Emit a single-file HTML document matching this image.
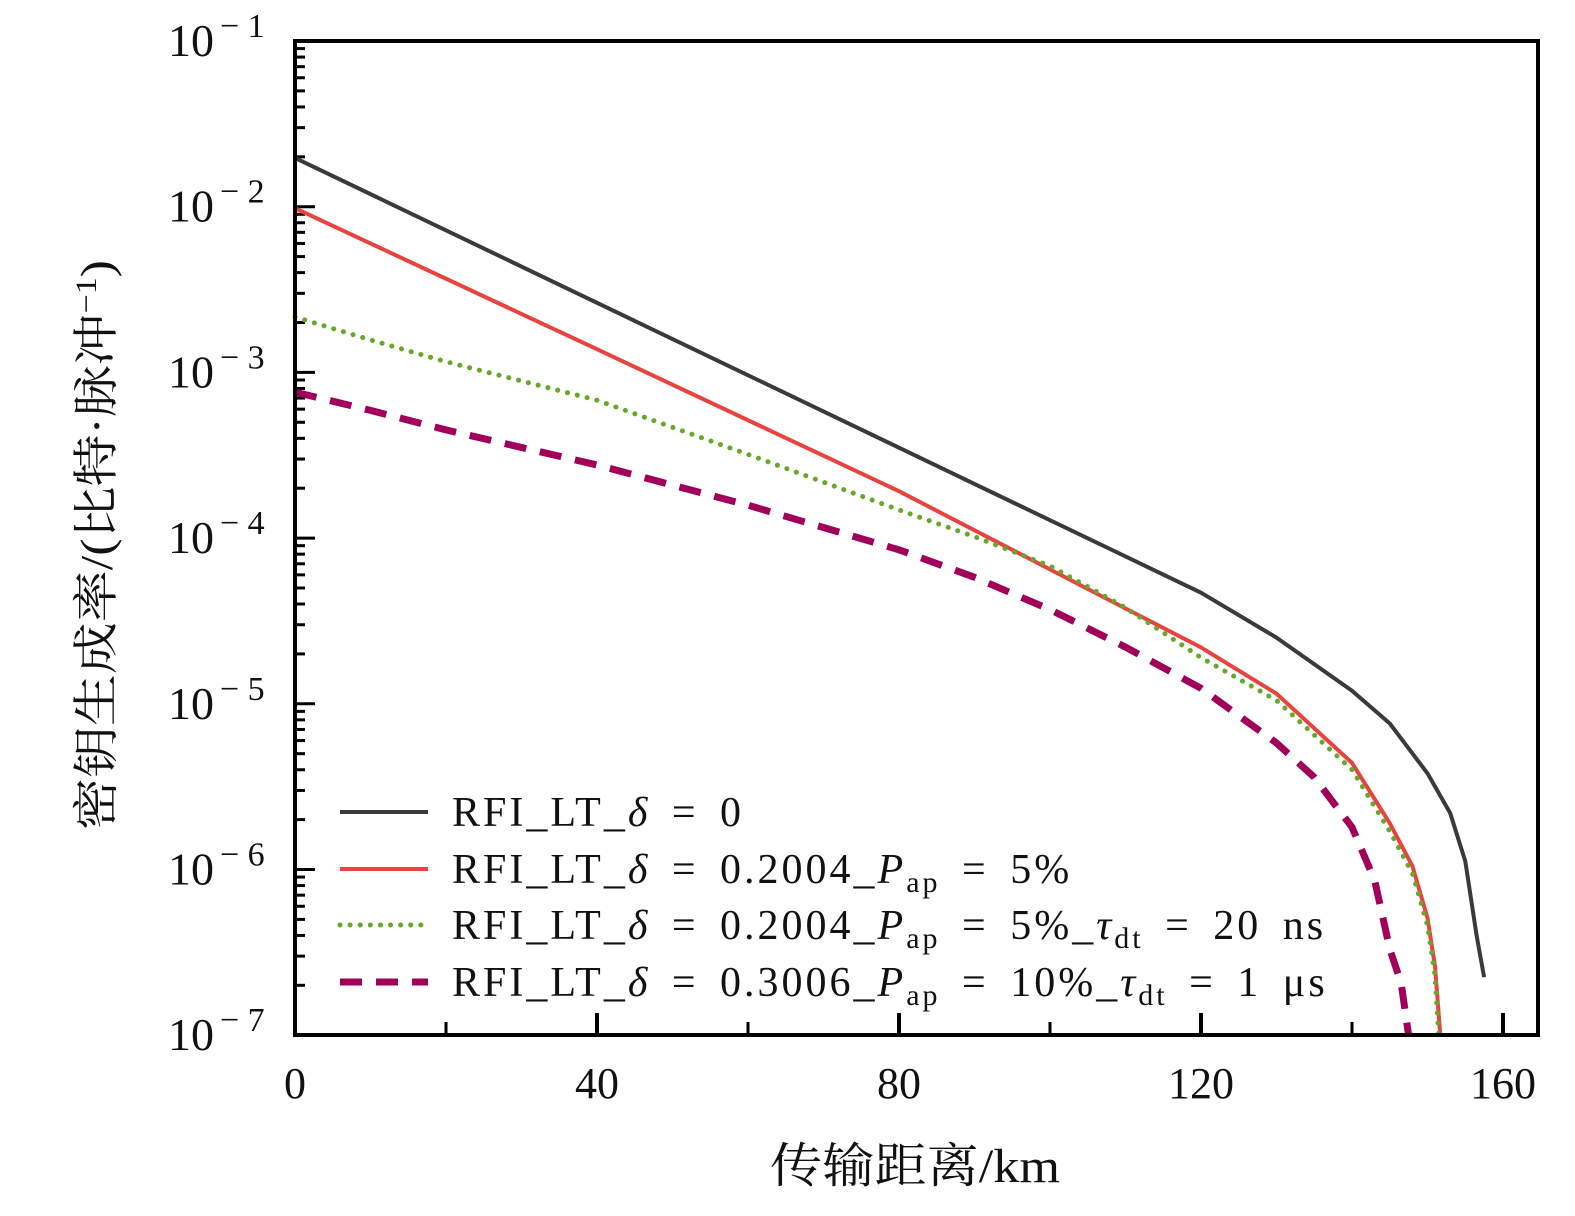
<!DOCTYPE html>
<html><head><meta charset="utf-8"><style>
body{margin:0;background:#fff}
svg text{font-family:"Liberation Serif","Noto Serif CJK SC",serif;fill:#111}
</style></head><body>
<svg id="c" width="1575" height="1211" viewBox="0 0 1575 1211">
<g id="ticks"></g>
<g id="series"></g>
<rect x="295" y="41" width="1243" height="994" fill="none" stroke="#000" stroke-width="4"/>
<text x="112" y="545" font-size="46" text-anchor="middle" textLength="570" lengthAdjust="spacingAndGlyphs" transform="rotate(-90 112 545)">密钥生成率/(比特·脉冲<tspan dy="-16" font-size="30">−1</tspan><tspan dy="16">)</tspan></text>
<text x="915" y="1182" font-size="48" text-anchor="middle" textLength="290" lengthAdjust="spacingAndGlyphs">传输距离/km</text>
<g id="legend"></g>
</svg>
<script>
const xTicks=[0,40,80,120,160];
const xMinor=[20,60,100,140];
const yExps=[-1,-2,-3,-4,-5,-6,-7];
const bx=[0,40,80,120,130,140,145,150,153,155,156.5,157.5];
const by=[1.97e-2,2.63e-3,3.51e-4,4.68e-5,2.51e-5,1.20e-5,7.6e-6,3.8e-6,2.19e-6,1.12e-6,4.0e-7,2.24e-7];
const rx=[0,40,80,106.7,120,130,140,145,148,150,151,151.7];
const ry=[9.8e-3,1.38e-3,1.92e-4,4.5e-5,2.19e-5,1.15e-5,4.4e-6,1.9e-6,1.05e-6,5.1e-7,2.6e-7,1.0e-7];
const gx=[0,10,20,40,60,80,90,100,110,120,130,140,145,148,150,151,151.5];
const gy=[2.16e-3,1.57e-3,1.16e-3,6.8e-4,3.2e-4,1.48e-4,1.02e-4,6.8e-5,3.8e-5,1.9e-5,1.05e-5,4.0e-6,1.7e-6,9.5e-7,4.6e-7,2.3e-7,1.0e-7];
const px=[0,10,20,40,60,80,90,100,110,120,130,135,140,143,145,146.5,147.5];
const py=[7.6e-4,5.9e-4,4.5e-4,2.76e-4,1.58e-4,8.5e-5,5.8e-5,3.7e-5,2.2e-5,1.24e-5,5.8e-6,3.6e-6,1.80e-6,8.6e-7,3.3e-7,2.07e-7,1.0e-7];
const labels=["RFI_LT_δ = 0","RFI_LT_δ = 0.2004_P_ap = 5%","RFI_LT_δ = 0.2004_P_ap = 5%_τ_dt = 20 ns","RFI_LT_δ = 0.3006_P_ap = 10%_τ_dt = 1 μs"];
const X=v=>295+v*(1503-295)/160;
const Y=v=>41+(-1-Math.log10(v))*165.7;
const NS="http://www.w3.org/2000/svg";
function mk(t,a,p){const e=document.createElementNS(NS,t);for(const k in a)e.setAttribute(k,a[k]);p.appendChild(e);return e;}
const tg=document.getElementById('ticks');
xTicks.forEach(v=>{
 const l=mk('line',{x1:X(v),x2:X(v),y1:1035,y2:1013,stroke:'#000','stroke-width':4},tg);
 
 
 const t=mk('text',{x:X(v),y:1098,'font-size':44,'text-anchor':'middle'},tg);t.textContent=v;
 
 
});
xMinor.forEach(v=>{
 const l=mk('line',{x1:X(v),x2:X(v),y1:1035,y2:1022,stroke:'#000','stroke-width':3},tg);
 
 
});
yExps.forEach(e=>{
 const y=Y(Math.pow(10,e));
 const l=mk('line',{x1:295,x2:315,y1:y,y2:y,stroke:'#000','stroke-width':3},tg);
 
 
 const t=mk('text',{x:214,y:y+15,'font-size':46,'text-anchor':'end'},tg);t.textContent='10';
 
 
 const s=mk('text',{x:220,y:y-4,'font-size':34},tg);s.textContent='− '+(-e);
 
 
 if(e>-7)for(let m=2;m<10;m++){
  const yy=Y(m*Math.pow(10,e-1));
  const ml=mk('line',{x1:295,x2:305,y1:yy,y2:yy,stroke:'#000','stroke-width':3},tg);
  
  
 }
});
const sg=document.getElementById('series');
const styles=[
 {stroke:'#3a3a3a','stroke-width':4,fill:'none'},
 {stroke:'#e8433f','stroke-width':4,fill:'none'},
 {stroke:'#66a82a','stroke-width':5,fill:'none','stroke-dasharray':'0.1 10','stroke-linecap':'round'},
 {stroke:'#a0005a','stroke-width':7,fill:'none','stroke-dasharray':'22 14'}];
const data=[[bx,by],[rx,ry],[gx,gy],[px,py]];
const names=['series-delta-0','series-delta-0.2004','series-delta-0.2004-tau-20ns','series-delta-0.3006-tau-1us'];
data.forEach((d,i)=>{
 const pts=d[0].map((x,j)=>X(x).toFixed(1)+','+Y(d[1][j]).toFixed(1)).join(' ');
 const p=mk('polyline',Object.assign({points:pts,'stroke-linejoin':'round'},styles[i]),sg);
 
 
});
const lg=document.getElementById('legend');
const ly=[812,869,925,982];
labels.forEach((lab,i)=>{
 const l=mk('line',Object.assign({x1:340,x2:428,y1:ly[i],y2:ly[i]},styles[i]),lg);
 
 
 const t=mk('text',{x:452,y:ly[i]+14,'font-size':42,'word-spacing':'8','letter-spacing':'3'},lg);
 
 
 const parts=lab.split(/(δ|P_ap|τ_dt)/);
 parts.forEach(pt=>{
  if(pt==='δ'){const s=mk('tspan',{'font-style':'italic'},t);s.textContent='δ';}
  else if(pt==='P_ap'||pt==='τ_dt'){const s=mk('tspan',{'font-style':'italic'},t);s.textContent=pt[0];const b=mk('tspan',{'font-size':30,dy:9},t);b.textContent=pt.slice(2);const r=mk('tspan',{dy:-9},t);r.textContent=' ';}
  else {const s=mk('tspan',{},t);s.textContent=pt;}
 });
});
</script>
</body></html>
